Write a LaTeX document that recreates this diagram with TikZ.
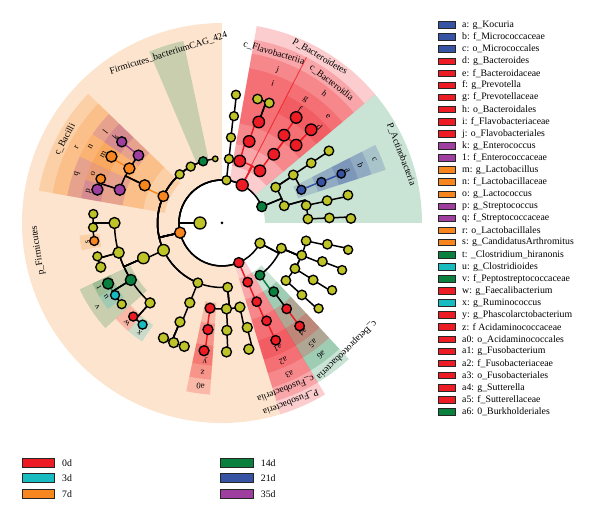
\documentclass[tikz,border=0pt]{standalone}
\usepackage{fontspec}
\setmainfont{Liberation Serif}
\usetikzlibrary{calc}
\definecolor{c0d}{RGB}{237,28,36}
\definecolor{c3d}{RGB}{24,188,192}
\definecolor{c7d}{RGB}{247,134,31}
\definecolor{c14d}{RGB}{10,128,62}
\definecolor{c21d}{RGB}{55,83,164}
\definecolor{c35d}{RGB}{158,62,158}
\definecolor{cyel}{RGB}{190,196,40}
\begin{document}
\begin{tikzpicture}[x=1pt,y=1pt,
  tedge/.style={line width=1.5pt},
  tnode/.style={circle,draw=black,line width=1.35pt,inner sep=0pt},
  radarc/.style={to path={let \p1=(\tikztostart), \p2=(\tikztotarget),
     \n1={atan2(\y1,\x1)}, \n2={atan2(\y2,\x2)}, \n3={veclen(\x2,\y2)},
     \n4={\n2-\n1},
     \n5={ifthenelse(\n4>180,\n2-360,ifthenelse(\n4<-180,\n2+360,\n2))}
     in -- (\n1:\n3) arc[start angle=\n1,end angle=\n5,radius=\n3]}},
  letlab/.style={font=\fontsize{8.6}{9}\selectfont,inner sep=0pt},
  nmlab/.style={font=\fontsize{9.5}{10}\selectfont,inner sep=0pt},
  legtxt/.style={font=\fontsize{9.8}{11}\selectfont,anchor=west,inner sep=0pt},
  legbox/.style={draw=black!85,line width=0.9pt},
]
\useasboundingbox (-222,-298) rectangle (378,223);

% ---------------- highlight wedges ----------------
\foreach \a/\b/\ri/\ro/\col in {
  90/287/43/200/c7d, 40/80/43/200/c0d, 0/40/43/200/c14d,
  287/301/43/200/c0d, 287/301/58/186/c0d, 287/301/80/172/c0d, 287/301/101/157/c0d, 287/301/123/143/c0d,
  301/313/58/186/c14d, 301/313/80/172/c14d, 301/313/101/157/c0d, 301/313/123/143/c0d,
  63/80/58/186/c0d, 63/80/80/172/c0d, 63/80/101/157/c0d,
  40/63/58/186/c0d, 40/63/80/172/c0d, 50.5/63/101/157/c0d, 50.5/63/123/143/c0d, 40/50.5/101/157/c0d, 40/50.5/123/143/c0d,
  18/27/80/172/c21d, 18/27/101/157/c21d, 18/27/123/143/c21d,
  102/113/66/186/c14d,
  136/170/58/186/c7d, 136/170/80/172/c7d,
  136/145.5/101/157/c35d, 136/145.5/123/143/c35d,
  145.5/155/101/157/c7d, 145.5/155/123/143/c7d,
  155/170/101/157/c35d, 155/162.5/123/143/c7d, 162.5/170/123/143/c35d,
  185/191/123/143/c7d,
  205/222/101/157/c14d, 205/211/123/143/c14d, 211/217/123/143/c3d,
  222/229/123/143/c0d, 229/236/123/143/c3d,
  258/266/80/172/c0d, 258/266/101/157/c0d, 258/266/123/143/c0d}
  \fill[\col,opacity=0.22] (\a:\ri) arc[start angle=\a,end angle=\b,radius=\ri pt]
      -- (\b:\ro) arc[start angle=\b,end angle=\a,radius=\ro pt] -- cycle;
\draw[c0d,line width=0.9pt,opacity=0.75] (63:58) -- (63:186);

% ---------------- tree positions ----------------
\foreach \n/\a/\r in {
  K/180/22,
  PF/193/43, PB/62/43, PA/22.3/43, PP/332/43, PU/293/43, PX/84/43,
  BF/74/64.5, BB/54/64.5, Bj/71.6/86, Bi/70/107.5, Bi1/74/129, Bi2/68.5/129,
  Bh/53/86, Bg/54.8/107.5, Bf/54.9/129, Be/46.4/107.5, Bd/46.3/129,
  X2/83.8/64.5, X3/84/86, X4/83.6/107.5, X5/83.8/129,
  A1/33.7/64.5, A1o/34/86, A1f/33.9/107.5, A1g/34/129,
  Ac/22.7/86, Ab/22.4/107.5, Aa/22.4/129,
  A3/15.4/64.5, A3o/11.8/86, A3f/12/107.5, A3g/12.5/129, A4o/2.7/86, A4f/2.7/107.5, A4g/2/129,
  Pbe/306/64.5, Pa6/307/86, Pa5/307/107.5, Pa4/307/129,
  Pg/337/64.5, O1/348/86, O1f/348.6/107.5, O1g/348/129,
  O2/338/86, O2f/339/107.5, O2g/338.6/129,
  O3/328/86, O3f/328/107.5, O3g/328.6/129,
  O4/318/86, O4f/318/107.5, O4g/318.5/129,
  Uc/293.5/64.5, Uo/293.8/86, Uf/294.5/107.5, Ug/294.6/129,
  F96/96/64.5, F107/107/64.5, F119/119/64.5, F131/131/64.5, FB/155.5/64.5, FC/205/64.5, F248/248/64.5, FN/275/64.5,
  Fr/154/86, Fl/141/107.5, Fk/141/129, Fn/149.5/107.5, Fm/149/129, Fq/162/107.5, Fo/160/129, Fp/165/129,
  FCo/204/86, FC1/180/107.5, FC2/196/107.5, Fv/212/107.5, FR/228/107.5,
  FC1a/176/129, FC1b/182/129, Fs/188/129, FC2a/195/129, FC2b/200/129,
  Ft/208/129, Fu/214/129, Fv3/219/129, Fw/226.5/129, Fx/232/129,
  F248o/248/86, F248f/247/107.5, G243/243/129, G248/248/129, G253/253/129,
  Fa0/262/86, FN2/273/86, FN3/282/86, Fz/262.5/107.5, FN2f/272.6/107.5, FN3f/283.6/107.5,
  Fy/262/129, FN2g/272/129, FN3g/282/129}
  \coordinate (\n) at (\a:\r);

% ---------------- coloured connectors ----------------
\foreach \pa/\ch/\col in {
  PB/BF/c0d, PB/BB/c0d, BF/Bj/c0d, Bj/Bi/c0d, BB/Bh/c0d, Bh/Bg/c0d, Bg/Bf/c0d, Bh/Be/c0d, Be/Bd/c0d,
  Ac/Ab/c21d, Ab/Aa/c21d, Pbe/Pa6/c14d, Pa5/Pa4/c0d,
  PU/Uc/c0d, Uc/Uo/c0d, Uo/Uf/c0d, Uf/Ug/c0d,
  PF/FB/c7d, FB/Fr/c7d, Fl/Fk/c35d, Fr/Fn/c7d, Fn/Fm/c7d, Fq/Fp/c35d,
  Fv/Ft/c14d, Fa0/Fz/c0d, Fz/Fy/c0d}
  \draw[tedge,\col] (\pa) to[radarc] (\ch);

% ---------------- black connectors ----------------
\foreach \pa/\ch in {
  K/PF, K/PB, K/PA, K/PP, K/PU, K/PX,
  Bi/Bi1, Bi/Bi2,
  PX/X2, X2/X3, X3/X4, X4/X5,
  PA/A1, PA/A3, A1/A1o, A1o/A1f, A1f/A1g, A1/Ac,
  A3/A3o, A3o/A3f, A3f/A3g, A3/A4o, A4o/A4f, A4f/A4g,
  PP/Pbe, Pa6/Pa5, PP/Pg, Pg/O1, Pg/O2, Pg/O3, Pg/O4,
  O1/O1f, O1f/O1g, O2/O2f, O2f/O2g, O3/O3f, O3f/O3g, O4/O4f, O4f/O4g,
  PF/F96, PF/F107, PF/F119, PF/F131, PF/FC, PF/F248, PF/FN,
  Fr/Fl, Fr/Fq, Fq/Fo,
  FC/FCo, FCo/FC1, FCo/FC2, FCo/Fv, FCo/FR,
  FC1/FC1a, FC1/FC1b, FC1/Fs, FC2/FC2a, FC2/FC2b, Fv/Fu, Fv/Fv3, FR/Fw, FR/Fx,
  F248/F248o, F248o/F248f, F248f/G243, F248f/G248, F248f/G253,
  FN/Fa0, FN/FN2, FN/FN3, FN2/FN2f, FN2f/FN2g, FN3/FN3f, FN3f/FN3g}
  \draw[tedge] (\pa) to[radarc] (\ch);

% ---------------- tree nodes ----------------
\node[circle,fill=black,inner sep=0pt,minimum size=3pt] (root) at (0,0) {};
\foreach \n/\col/\s in {
  K/cyel/12,
  PF/c7d/11, PB/c0d/12, PA/c14d/10, PP/cyel/10, PU/c0d/10, PX/cyel/9,
  BF/c0d/11.5, BB/c0d/11.5, Bj/c0d/11.5, Bi/c0d/11.5, Bi1/cyel/9.5, Bi2/cyel/9.5,
  Bh/c0d/11.5, Bg/c0d/11.5, Bf/c0d/11.5, Be/c0d/11.5, Bd/c0d/11.5,
  X2/cyel/9, X3/cyel/9, X4/cyel/9, X5/cyel/9,
  A1/cyel/9.5, A1o/cyel/9.5, A1f/cyel/9.5, A1g/cyel/9.5,
  Ac/c21d/9, Ab/c21d/9, Aa/c21d/8.5,
  A3/cyel/9.5, A3o/cyel/9.5, A3f/cyel/9.5, A3g/cyel/9.5, A4o/cyel/9.5, A4f/cyel/9.5, A4g/cyel/9.5,
  Pbe/c14d/9.5, Pa6/c14d/9.5, Pa5/c0d/9.5, Pa4/c0d/9.5,
  Pg/cyel/9.5, O1/cyel/9.5, O1f/cyel/9.5, O1g/cyel/9, O2/cyel/9.5, O2f/cyel/9.5, O2g/cyel/9,
  O3/cyel/9.5, O3f/cyel/9.5, O3g/cyel/9, O4/cyel/9.5, O4f/cyel/9.5, O4g/cyel/9,
  Uc/c0d/9.5, Uo/c0d/9.5, Uf/c0d/9.5, Ug/c0d/9.5,
  F96/cyel/5.5, F107/c14d/9, F119/cyel/9, F131/cyel/9, FB/c7d/10.5, FC/cyel/11.5, F248/cyel/9.5, FN/cyel/9.5,
  Fr/c7d/11, Fl/c35d/10.5, Fk/c35d/10, Fn/c7d/11, Fm/c7d/11, Fq/c35d/11, Fo/c7d/9.5, Fp/c35d/11,
  FCo/cyel/11.5, FC1/cyel/11, FC2/cyel/11, Fv/c14d/11, FR/cyel/10,
  FC1a/cyel/9, FC1b/cyel/9, Fs/c7d/9, FC2a/cyel/9, FC2b/cyel/10,
  Ft/c14d/11, Fu/c3d/9, Fv3/cyel/9, Fw/c0d/9, Fx/c3d/9,
  F248o/cyel/10, F248f/cyel/10, G243/cyel/10, G248/cyel/10, G253/cyel/10,
  Fa0/c0d/10, FN2/cyel/10, FN3/cyel/10, Fz/c0d/10, FN2f/cyel/10, FN3f/cyel/10,
  Fy/c0d/10, FN2g/cyel/10, FN3g/cyel/10}
  \node[tnode,fill=\col,minimum size=\s pt] (\n n) at (\n) {};

% ---------------- letter labels ----------------
\foreach \a/\r/\txt in {
  22.5/136/a, 22.5/150/b, 22.5/165/c, 44.7/137/d, 45/150/e, 55.5/138/f, 56/149/g, 51.5/165/h,
  70/149/i, 70/163/j, 141/137/k, 142/148/l, 150/137/m, 150/152/n, 159/138/o, 166.5/137/p,
  161.5/153/q, 152.5/164/r, 188/136/s, 207.5/139/t, 212.5/137/u, 214/150/v, 226.5/138/w, 233/137/x,
  263/138/y, 262.5/150/z, 262.5/165/a0, 294/137/a1, 294/151/a2, 294/166/a3,
  306.6/136/a4, 307/151/a5, 307/165/a6}
  \node[letlab,rotate=\a-90] (L\txt) at (\a:\r) {\txt};

% ---------------- clade names ----------------
\foreach \a/\r/\txt [count=\k] in {
  188.5/186/{p\_Firmicutes}, 152/178/{c\_Bacilli}, 107.5/178/{Firmicutes\_bacteriumCAG\_424},
  73/178/{c\_Flavobacteriia}, 52/178/{c\_Bacteroidia}, 59.5/193/{P\_Bacteroidetes},
  21/192/{P\_Actinobacteria}, 314.5/178/{c\_Betaproteobacteria},
  291/178/{c\_Fusobacteriia}, 291/192/{P\_Fusobacteria}}
  \node[nmlab,rotate=\a-90] (N\k) at (\a:\r) {\txt};

% ---------------- right legend ----------------
\foreach \txt/\col [count=\k from 0] in {
  {a: g\_Kocuria}/c21d, {b: f\_Micrococcaceae}/c21d, {c: o\_Micrococcales}/c21d,
  {d: g\_Bacteroides}/c0d, {e: f\_Bacteroidaceae}/c0d, {f: g\_Prevotella}/c0d,
  {g: f\_Prevotellaceae}/c0d, {h: o\_Bacteroidales}/c0d, {i: f\_Flavobacteriaceae}/c0d,
  {j: o\_Flavobacteriales}/c0d, {k: g\_Enterococcus}/c35d, {1: f\_Enterococcaceae}/c35d,
  {m: g\_Lactobacillus}/c7d, {n: f\_Lactobacillaceae}/c7d, {o: g\_Lactococcus}/c7d,
  {p: g\_Streptococcus}/c35d, {q: f\_Streptococcaceae}/c35d, {r: o\_Lactobacillales}/c7d,
  {s: g\_CandidatusArthromitus}/c7d, {t: \_Clostridium\_hiranonis}/c14d, {u: g\_Clostridioides}/c3d,
  {v: f\_Peptostreptococcaceae}/c14d, {w: g\_Faecalibacterium}/c0d, {x: g\_Ruminococcus}/c3d,
  {y: g\_Phascolarctobacterium}/c0d, {z: f Acidaminococcaceae}/c0d, {a0: o\_Acidaminococcales}/c0d,
  {a1: g\_Fusobacterium}/c0d, {a2: f\_Fusobacteriaceae}/c0d, {a3: o\_Fusobacteriales}/c0d,
  {a4: g\_Sutterella}/c0d, {a5: f\_Sutterellaceae}/c0d, {a6: 0\_Burkholderiales}/c14d}
  {
  \draw[legbox,fill=\col] (216,{198-12.09*\k-3.3}) rectangle (233,{198-12.09*\k+3.3});
  \node[legtxt] (R\k) at (240,{198-12.09*\k}) {\txt};
  }

% ---------------- bottom legend ----------------
\foreach \x/\y/\txt/\col [count=\k] in {
  -200/-239.7/0d/c0d, -200/-255.3/3d/c3d, -200/-271/7d/c7d,
  -1.3/-239.7/14d/c14d, -1.3/-255.3/21d/c21d, -1.3/-271/35d/c35d}
  {
  \draw[legbox,fill=\col] (\x,\y-4.5) rectangle (\x+32.5,\y+4.5);
  \node[legtxt] (B\k) at (\x+40,\y) {\txt};
  }
\end{tikzpicture}
\end{document}
